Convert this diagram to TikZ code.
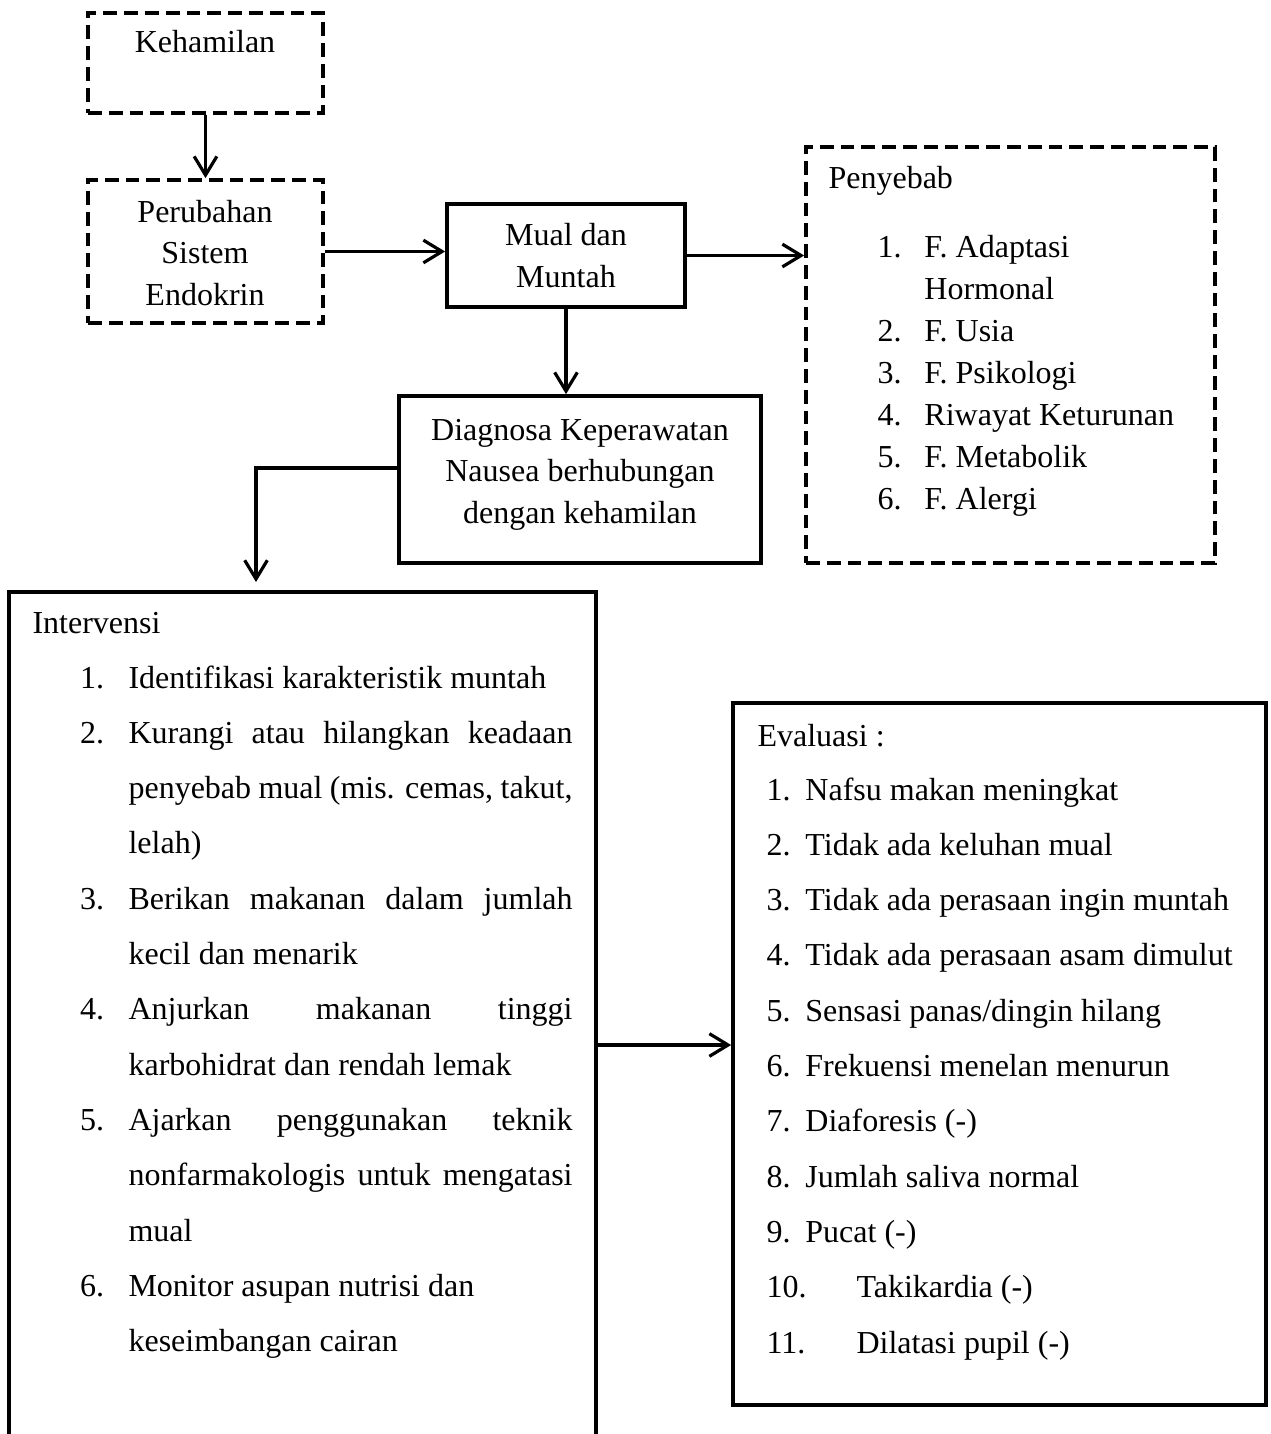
\documentclass[tikz,border=0pt]{standalone}
\usepackage{fontspec}
\setmainfont{Liberation Serif}
\usetikzlibrary{arrows.meta,fit}
\newcommand{\itemno}[2]{\makebox[#1][l]{#2}}
\newcommand{\fillline}[1]{\makebox[166.5pt][s]{#1}}

\begin{document}
\begin{tikzpicture}[x=0.375pt,y=-0.375pt,
  txt/.style={inner sep=0,font=\fontsize{12}{15.6}\selectfont},
  dbox/.style={draw,line width=1.4pt,dash pattern=on 5.2pt off 2.6pt,inner sep=0},
  sbox/.style={draw,line width=1.4pt,inner sep=0},
  arr/.style={-{Straight Barb[length=7pt,width=8.5pt]},line width=1.2pt}]

\useasboundingbox (0,0) rectangle (1270,1434);

\node (hamil) [dbox,fit={(88,13) (323,113)}] {};
\node (perub) [dbox,fit={(88,180) (323,323)}] {};
\node (mual) [sbox,fit={(447,204) (685,307)}] {};
\node (diag) [sbox,fit={(399,396) (761,563)}] {};
\node (sebab) [dbox,fit={(806,147) (1215,563)}] {};
\node (interv) [inner sep=0,fit={(10,593) (595,1434)}] {};
\node (eval) [sbox,fit={(733,703) (1266,1405)}] {};

\draw[line width=1.5pt] (interv.south west) -- (interv.north west) -- (interv.north east) -- (interv.south east);

\node (hamiltxt) [txt,anchor=base] at (205,53) {Kehamilan};
\node (perubtxt) [txt,anchor=base] at (205,222) {\begin{tabular}[t]{@{}c@{}}Perubahan\\ Sistem\\ Endokrin\end{tabular}};
\node (mualtxt) [txt,anchor=base,font=\fontsize{12}{15.75}\selectfont] at (566,245) {\begin{tabular}[t]{@{}c@{}}Mual dan\\ Muntah\end{tabular}};
\node (diagtxt) [txt,anchor=base] at (580,440) {\begin{tabular}[t]{@{}c@{}}Diagnosa Keperawatan\\ Nausea berhubungan\\ dengan kehamilan\end{tabular}};

\node (sebabtxt) [txt,anchor=base west] at (828,188) {Penyebab};
\node (sebablist) [txt,anchor=base west,font=\fontsize{12}{15.8}\selectfont] at (877,257) {\begin{tabular}[t]{@{}l@{}}
\itemno{17.6pt}{1.}F. Adaptasi\\
\itemno{17.6pt}{}Hormonal\\
\itemno{17.6pt}{2.}F. Usia\\
\itemno{17.6pt}{3.}F. Psikologi\\
\itemno{17.6pt}{4.}Riwayat Keturunan\\
\itemno{17.6pt}{5.}F. Metabolik\\
\itemno{17.6pt}{6.}F. Alergi
\end{tabular}};

\node (intervtxt) [txt,anchor=base west] at (32,633) {Intervensi};
\node (intervlist) [txt,anchor=base west,font=\fontsize{12}{20.74}\selectfont] at (79.5,688) {\begin{tabular}[t]{@{}l@{}}
\itemno{18.2pt}{1.}Identifikasi karakteristik muntah\\
\itemno{18.2pt}{2.}\fillline{Kurangi atau hilangkan keadaan}\\
\itemno{18.2pt}{}\fillline{penyebab mual (mis. cemas, takut,}\\
\itemno{18.2pt}{}lelah)\\
\itemno{18.2pt}{3.}\fillline{Berikan makanan dalam jumlah}\\
\itemno{18.2pt}{}kecil dan menarik\\
\itemno{18.2pt}{4.}\fillline{Anjurkan makanan tinggi}\\
\itemno{18.2pt}{}karbohidrat dan rendah lemak\\
\itemno{18.2pt}{5.}\fillline{Ajarkan penggunakan teknik}\\
\itemno{18.2pt}{}\fillline{nonfarmakologis untuk mengatasi}\\
\itemno{18.2pt}{}mual\\
\itemno{18.2pt}{6.}Monitor asupan nutrisi dan\\
\itemno{18.2pt}{}keseimbangan cairan
\end{tabular}};

\node (evaltxt) [txt,anchor=base west] at (757,746) {Evaluasi :};
\node (evallist) [txt,anchor=base west,font=\fontsize{12}{20.74}\selectfont] at (766,800) {\begin{tabular}[t]{@{}l@{}}
\itemno{14.6pt}{1.}Nafsu makan meningkat\\
\itemno{14.6pt}{2.}Tidak ada keluhan mual\\
\itemno{14.6pt}{3.}Tidak ada perasaan ingin muntah\\
\itemno{14.6pt}{4.}Tidak ada perasaan asam dimulut\\
\itemno{14.6pt}{5.}Sensasi panas/dingin hilang\\
\itemno{14.6pt}{6.}Frekuensi menelan menurun\\
\itemno{14.6pt}{7.}Diaforesis (-)\\
\itemno{14.6pt}{8.}Jumlah saliva normal\\
\itemno{14.6pt}{9.}Pucat (-)\\
\itemno{33.75pt}{10.}Takikardia (-)\\
\itemno{33.75pt}{11.}Dilatasi pupil (-)
\end{tabular}};

\draw[arr] (hamil) -- (perub);
\draw[arr] (perub.east) -- (perub.east -| mual.west);
\draw[arr] (mual.east) -- (mual.east -| sebab.west);
\draw[arr] (mual.south) -- (mual.south |- diag.north);
\coordinate (bend) at (256,468);
\coordinate (tip) at (256,582);
\draw[arr] (bend -| diag.west) -- (bend) -- (tip);
\coordinate (evy) at (0,1045);
\draw[arr] (evy -| interv.east) -- (evy -| eval.west);

\end{tikzpicture}
\end{document}
